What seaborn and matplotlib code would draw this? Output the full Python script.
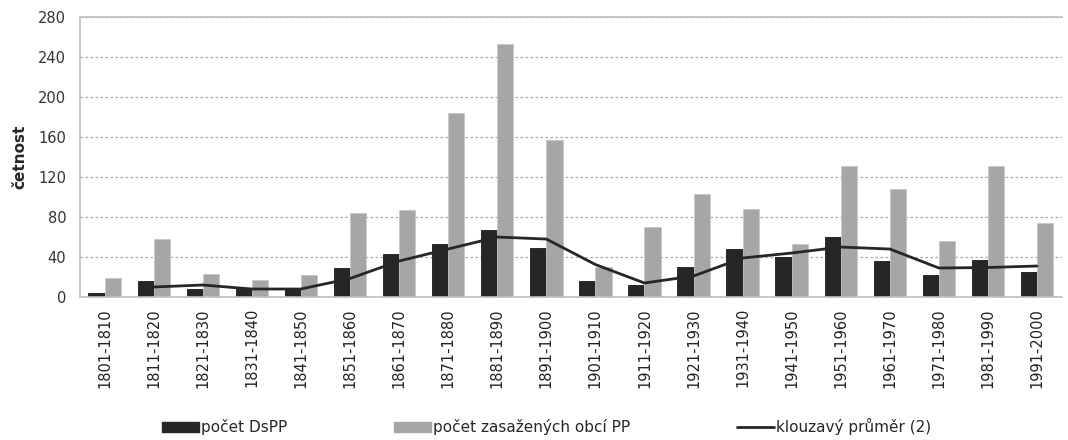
import numpy as np
import pandas as pd
import matplotlib
matplotlib.use('Agg')
import matplotlib.pyplot as plt
import seaborn as sns
from matplotlib.patches import Patch
from matplotlib.lines import Line2D

decades = ['1801-1810', '1811-1820', '1821-1830', '1831-1840', '1841-1850',
           '1851-1860', '1861-1870', '1871-1880', '1881-1890', '1891-1900',
           '1901-1910', '1911-1920', '1921-1930', '1931-1940', '1941-1950',
           '1951-1960', '1961-1970', '1971-1980', '1981-1990', '1991-2000']
dspp = [4, 16, 8, 8, 8, 29, 43, 53, 67, 49, 16, 12, 30, 48, 40, 60, 36, 22, 37, 25]
obce = [19, 58, 23, 17, 22, 84, 87, 184, 253, 157, 30, 70, 103, 88, 53, 131, 108, 56, 131, 74]
klouzavy = [np.nan, 10, 12, 8, 8, 18.5, 36, 48, 60, 58, 32.5, 14, 21, 39, 44, 50, 48, 29, 29.5, 31]

lab1 = 'počet DsPP'
lab2 = 'počet zasažených obcí PP'
lab3 = 'klouzavý průměr (2)'

df = pd.DataFrame({'dekada': decades * 2,
                   'hodnota': dspp + obce,
                   'serie': [lab1] * len(decades) + [lab2] * len(decades)})

sns.set_style('white')
plt.rcParams['font.family'] = ['DejaVu Sans']

fig = plt.figure(figsize=(10.68, 4.4), dpi=100)
ax = fig.add_axes([0.075, 0.325, 0.919, 0.636])

black = '#262626'
gray = '#a6a6a6'
sns.barplot(data=df, x='dekada', y='hodnota', hue='serie', order=decades,
            hue_order=[lab1, lab2], palette=[black, gray], width=0.66,
            gap=0, saturation=1, ax=ax, legend=False,
            edgecolor='#c8c8c8', linewidth=0.6)
# tmave sloupce bez svetleho okraje
for bar in ax.patches[:len(decades)]:
    bar.set_edgecolor('#1a1a1a')

ax.plot(np.arange(len(decades)), klouzavy, color=black, lw=2)

ax.set_ylim(0, 280)
ax.set_xlim(-0.5, len(decades) - 0.5)
ax.set_yticks(range(0, 281, 40))
ax.yaxis.grid(True, linestyle=(0, (2, 2)), color='#a8a8a8', lw=0.9)
ax.set_axisbelow(True)
ax.set_ylabel('četnost', fontsize=11, fontweight='bold', labelpad=8)
ax.set_xlabel('')
ax.tick_params(axis='y', labelsize=10.5, length=0, pad=10, colors='#333333')
ax.tick_params(axis='x', labelsize=10.5, length=0, pad=8, rotation=90, colors='#222222')
ax.spines['right'].set_visible(False)
for s in ['left', 'bottom', 'top']:
    ax.spines[s].set_color('#bfbfbf')
    ax.spines[s].set_linewidth(1.2)

handles = [Patch(facecolor=black, edgecolor=black),
           Patch(facecolor=gray, edgecolor=gray),
           Line2D([0], [0], color=black, lw=2)]
fig.legend(handles, [lab1, lab2, lab3], loc='center', ncol=3,
           bbox_to_anchor=(0.512, 0.03), frameon=False, fontsize=11,
           handlelength=2.4, handleheight=0.7, handletextpad=0.15,
           columnspacing=7.0)

fig.savefig('out.png', dpi=100)
